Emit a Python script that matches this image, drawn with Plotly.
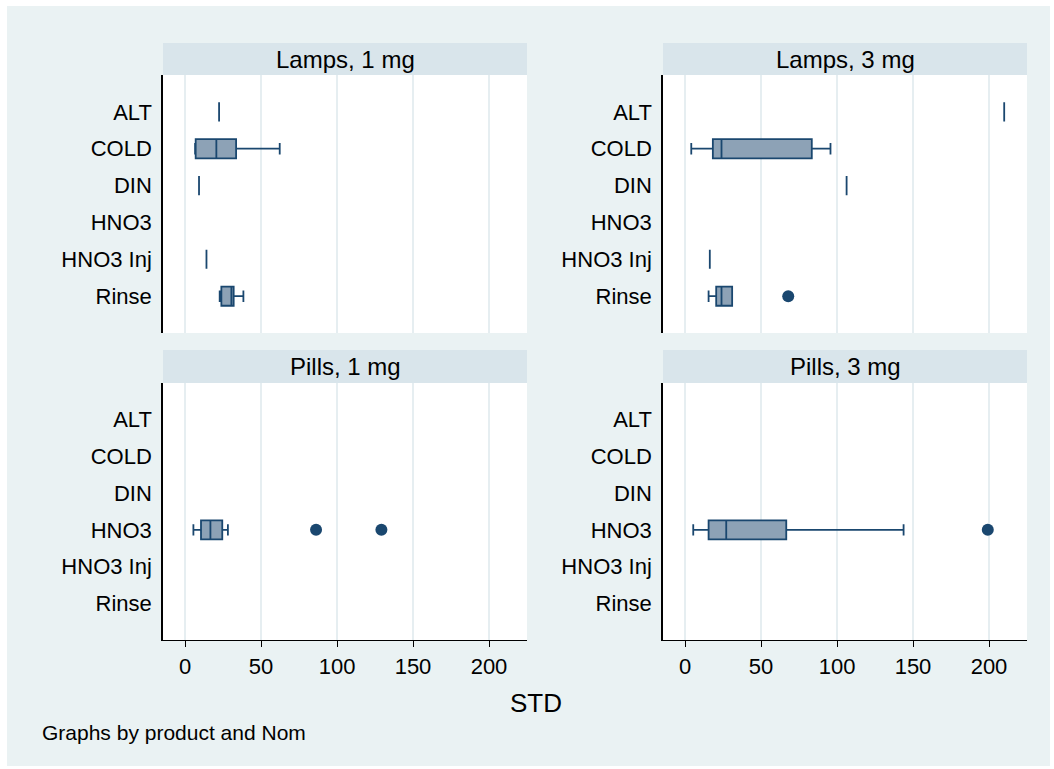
import plotly.graph_objects as go

# ---------------- data ----------------
categories = ["ALT", "COLD", "DIN", "HNO3", "HNO3 Inj", "Rinse"]
panel_titles = ["Lamps, 1 mg", "Lamps, 3 mg", "Pills, 1 mg", "Pills, 3 mg"]

# Lamps, 1 mg
lamps1_cat = ["ALT", "COLD", "DIN", "HNO3 Inj", "Rinse"]
lamps1_low = [22.4, 6.6, 9.2, 14.1, 22.8]
lamps1_q1 = [22.4, 7.0, 9.2, 14.1, 23.9]
lamps1_med = [22.4, 20.6, 9.2, 14.1, 30.5]
lamps1_q3 = [22.4, 33.6, 9.2, 14.1, 32.0]
lamps1_high = [22.4, 62.3, 9.2, 14.1, 38.4]
lamps1_out_cat = []
lamps1_out_val = []

# Lamps, 3 mg
lamps3_cat = ["ALT", "COLD", "DIN", "HNO3 Inj", "Rinse"]
lamps3_low = [210.0, 4.1, 106.3, 16.3, 15.5]
lamps3_q1 = [210.0, 18.3, 106.3, 16.3, 20.5]
lamps3_med = [210.0, 24.0, 106.3, 16.3, 24.0]
lamps3_q3 = [210.0, 83.4, 106.3, 16.3, 31.0]
lamps3_high = [210.0, 95.7, 106.3, 16.3, 31.0]
lamps3_out_cat = ["Rinse"]
lamps3_out_val = [67.9]

# Pills, 1 mg
pills1_cat = ["HNO3"]
pills1_low = [5.5]
pills1_q1 = [10.5]
pills1_med = [16.7]
pills1_q3 = [24.5]
pills1_high = [28.2]
pills1_out_cat = ["HNO3", "HNO3"]
pills1_out_val = [86.2, 129.2]

# Pills, 3 mg
pills3_cat = ["HNO3"]
pills3_low = [5.4]
pills3_q1 = [15.5]
pills3_med = [27.1]
pills3_q3 = [66.6]
pills3_high = [143.8]
pills3_out_cat = ["HNO3"]
pills3_out_val = [199.2]

x_ticks = [0, 50, 100, 150, 200]
x_title = "STD"
note_text = "Graphs by product and Nom"

# ---------------- styling ----------------
W, H = 1054, 769
BG = "#EAF2F3"
STRIP = "#D9E5EB"
GRID = "#E6EEF1"
NAVY = "#1A476F"
FILL = "#8DA2B6"
FONT = "Liberation Sans, Arial, sans-serif"

def px_x(p):
    return p / W

def px_y(p):
    return 1 - p / H

cols = [(163, 527), (663, 1027)]
rows = [(75, 333, 43), (383, 640, 350)]  # plot top, plot bottom, strip top

panels = [
    (lamps1_cat, lamps1_low, lamps1_q1, lamps1_med, lamps1_q3, lamps1_high, lamps1_out_cat, lamps1_out_val),
    (lamps3_cat, lamps3_low, lamps3_q1, lamps3_med, lamps3_q3, lamps3_high, lamps3_out_cat, lamps3_out_val),
    (pills1_cat, pills1_low, pills1_q1, pills1_med, pills1_q3, pills1_high, pills1_out_cat, pills1_out_val),
    (pills3_cat, pills3_low, pills3_q1, pills3_med, pills3_q3, pills3_high, pills3_out_cat, pills3_out_val),
]

fig = go.Figure()
shapes = []
annotations = []
layout_axes = {}

for i, (cat, lo, q1, med, q3, hi, ocat, oval) in enumerate(panels):
    r, c = divmod(i, 2)
    x0, x1 = cols[c]
    ptop, pbot, stop = rows[r]
    n = i + 1
    xa = "x" if n == 1 else f"x{n}"
    ya = "y" if n == 1 else f"y{n}"
    xkey = "xaxis" if n == 1 else f"xaxis{n}"
    ykey = "yaxis" if n == 1 else f"yaxis{n}"

    pos = [categories.index(k) for k in cat]
    fig.add_trace(go.Box(
        orientation="h", y=pos, q1=q1, median=med, q3=q3,
        lowerfence=lo, upperfence=hi, width=0.52, whiskerwidth=0.6,
        fillcolor=FILL, line=dict(color=NAVY, width=1.8),
        boxpoints=False, hoverinfo="skip", showlegend=False,
        xaxis=xa, yaxis=ya,
    ))
    if oval:
        fig.add_trace(go.Scatter(
            x=oval, y=[categories.index(k) for k in ocat], mode="markers",
            marker=dict(color=NAVY, size=12), showlegend=False,
            xaxis=xa, yaxis=ya, hoverinfo="skip",
        ))

    bottom = r == 1
    layout_axes[xkey] = dict(
        domain=[px_x(x0), px_x(x1)], range=[-14.5, 225], anchor=ya,
        tickvals=x_ticks, showgrid=True, gridcolor=GRID, gridwidth=1.5,
        zeroline=False, showticklabels=bottom,
        showline=bottom, linecolor="black", linewidth=1.2,
        ticks="outside" if bottom else "", ticklen=6, tickcolor="black",
        tickfont=dict(size=22, color="black", family=FONT),
    )
    layout_axes[ykey] = dict(
        domain=[px_y(pbot), px_y(ptop)], range=[6, -1], anchor=xa,
        tickvals=list(range(len(categories))), ticktext=categories,
        showgrid=False, zeroline=False, showline=True, linecolor="black",
        linewidth=1.5, ticks="", ticklabelstandoff=5,
        tickfont=dict(size=22, color="black", family=FONT),
    )
    # strip header
    shapes.append(dict(type="rect", xref="paper", yref="paper",
                       x0=px_x(x0), x1=px_x(x1), y0=px_y(ptop), y1=px_y(stop),
                       fillcolor=STRIP, line=dict(width=0), layer="below"))
    annotations.append(dict(text=panel_titles[i], xref="paper", yref="paper",
                            x=px_x((x0 + x1) / 2), y=px_y((stop + ptop) / 2),
                            xanchor="center", yanchor="middle", showarrow=False,
                            font=dict(size=24, color="black", family=FONT)))

# white outer border
for (a, b, cc, d) in [(0, 0, W, 6), (0, 766, W, H), (0, 0, 7, H), (1050, 0, W, H)]:
    shapes.append(dict(type="rect", xref="paper", yref="paper",
                       x0=px_x(a), x1=px_x(cc), y0=px_y(d), y1=px_y(b),
                       fillcolor="white", line=dict(width=0), layer="above"))

annotations.append(dict(text=x_title, xref="paper", yref="paper",
                        x=px_x(536), y=px_y(703), xanchor="center", yanchor="middle",
                        showarrow=False, font=dict(size=26, color="black", family=FONT)))
annotations.append(dict(text=note_text, xref="paper", yref="paper",
                        x=px_x(40), y=px_y(732), xanchor="left", yanchor="middle",
                        showarrow=False, font=dict(size=21, color="black", family=FONT)))

fig.update_layout(
    width=W, height=H, margin=dict(l=0, r=0, t=0, b=0),
    paper_bgcolor=BG, plot_bgcolor="white",
    shapes=shapes, annotations=annotations, showlegend=False,
    **layout_axes,
)

fig.write_html("out.html")
